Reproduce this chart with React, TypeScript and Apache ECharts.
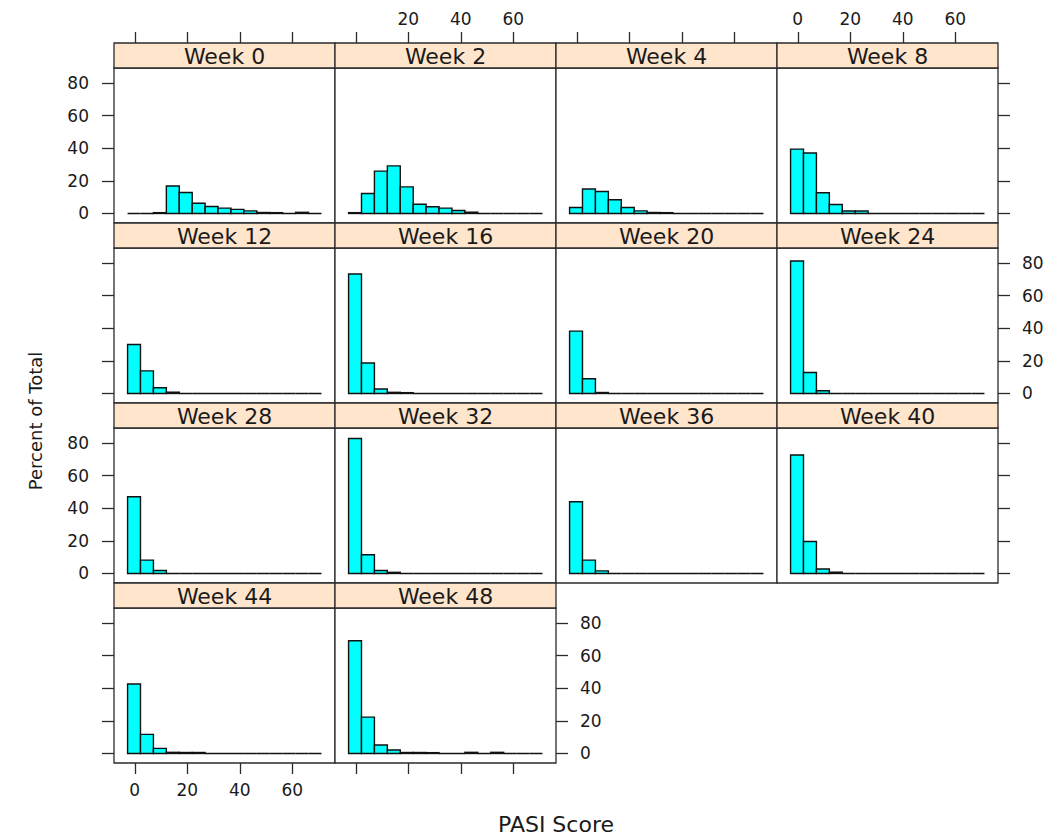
import React, { useEffect, useRef } from "react";
import * as echarts from "echarts";

// Panel labels, in reading order (as.table layout, 4 columns)
const weeks = [
  "Week 0", "Week 2", "Week 4", "Week 8",
  "Week 12", "Week 16", "Week 20", "Week 24",
  "Week 28", "Week 32", "Week 36", "Week 40",
  "Week 44", "Week 48",
];

// Common histogram break points (PASI score)
const breaks = [
  -2.74, 2.18, 7.11, 12.03, 16.95, 21.88, 26.8, 31.72,
  36.64, 41.57, 46.49, 51.41, 56.34, 61.26, 66.18, 71.11,
];

// Percent of total in each bin, one list per week
const week0 = [0, 0, 0.5, 16.9, 12.9, 6.3, 4.3, 3.3, 2.5, 1.6, 0.6, 0.5, 0, 0.7, 0];
const week2 = [0.5, 12.3, 26.0, 29.2, 16.3, 5.7, 4.1, 3.3, 1.8, 0.8, 0, 0, 0, 0, 0];
const week4 = [3.7, 15.0, 13.5, 8.4, 3.7, 1.6, 0.6, 0.5, 0, 0, 0, 0, 0, 0, 0];
const week8 = [39.5, 37.1, 12.7, 5.5, 1.5, 1.5, 0, 0, 0, 0, 0, 0, 0, 0, 0];
const week12 = [30.1, 13.9, 3.5, 0.8, 0, 0, 0, 0, 0, 0, 0, 0, 0, 0, 0];
const week16 = [73.3, 18.7, 2.7, 0.7, 0.5, 0, 0, 0, 0, 0, 0, 0, 0, 0, 0];
const week20 = [38.3, 9.0, 0.6, 0, 0, 0, 0, 0, 0, 0, 0, 0, 0, 0, 0];
const week24 = [81.3, 12.9, 1.7, 0, 0, 0, 0, 0, 0, 0, 0, 0, 0, 0, 0];
const week28 = [47.1, 8.2, 1.8, 0, 0, 0, 0, 0, 0, 0, 0, 0, 0, 0, 0];
const week32 = [82.9, 11.5, 1.8, 0.7, 0, 0, 0, 0, 0, 0, 0, 0, 0, 0, 0];
const week36 = [44.0, 8.2, 1.6, 0, 0, 0, 0, 0, 0, 0, 0, 0, 0, 0, 0];
const week40 = [72.7, 19.6, 2.7, 0.8, 0, 0, 0, 0, 0, 0, 0, 0, 0, 0, 0];
const week44 = [42.6, 11.7, 3.1, 0.7, 0.6, 0.6, 0, 0, 0, 0, 0, 0, 0, 0, 0];
const week48 = [69.2, 22.3, 5.2, 2.1, 0.6, 0.6, 0.5, 0, 0, 0.7, 0, 0.7, 0, 0, 0];

const percents = [
  week0, week2, week4, week8, week12, week16, week20,
  week24, week28, week32, week36, week40, week44, week48,
];

// Tick values
const xTicks = [0, 20, 40, 60];
const yTicks = [0, 20, 40, 60, 80];

// Axis limits (padded around the breaks and the tallest bar)
const X_MIN = -7.91;
const X_MAX = 76.27;
const Y_MIN = -5.85;
const Y_MAX = 89.3;

// Layout
const W = 1047;
const H = 835;
const NCOL = 4;
const LEFT0 = 114;
const TOP0 = 43;
const PANEL_W = 221;
const ROW_H = 180;
const STRIP_H = 25;
const PLOT_H = ROW_H - STRIP_H;

const FONT = "'DejaVu Sans', 'Liberation Sans', Arial, sans-serif";
const INK = "#1a1a1a";
const FRAME = "#2b2b2b";

export default function App() {
  const ref = useRef<HTMLDivElement>(null);

  useEffect(() => {
    if (!ref.current) return;
    const chart = echarts.init(ref.current, undefined, { renderer: "svg" });

    const nRows = Math.ceil(weeks.length / NCOL);
    const grids: any[] = [];
    const xAxes: any[] = [];
    const yAxes: any[] = [];
    const series: any[] = [];
    const graphics: any[] = [];

    weeks.forEach((name, i) => {
      const r = Math.floor(i / NCOL);
      const c = i % NCOL;
      const left = LEFT0 + c * PANEL_W;
      const stripTop = TOP0 + r * ROW_H;
      const top = stripTop + STRIP_H;
      const lastInRow = Math.min(weeks.length - 1, r * NCOL + NCOL - 1) === i;
      const lastRow = r === nRows - 1;

      grids.push({
        left,
        top,
        width: PANEL_W,
        height: PLOT_H,
        show: true,
        borderColor: FRAME,
        borderWidth: 1.3,
        backgroundColor: "#ffffff",
      });

      // x axis: ticks above the first row (over the strips), below the last row
      const xTop = r === 0;
      const xBottom = lastRow;
      let xLabels: number[] = [];
      if (xTop && c % 2 === 1) xLabels = c === 1 ? [20, 40, 60] : xTicks;
      if (xBottom && !xTop && c % 2 === 0) xLabels = xTicks;
      xAxes.push({
        gridIndex: i,
        type: "value",
        min: X_MIN,
        max: X_MAX,
        position: xTop ? "top" : "bottom",
        // top axis sits on the strip's upper edge
        offset: xTop ? STRIP_H : 0,
        axisLine: { show: false, onZero: false },
        splitLine: { show: false },
        axisTick: {
          show: xTop || xBottom,
          length: 11,
          customValues: xTicks,
          lineStyle: { color: FRAME, width: 1.3 },
        },
        axisLabel: {
          show: xLabels.length > 0,
          customValues: xLabels,
          margin: xTop ? 16 : 18,
          color: INK,
          fontSize: 17,
          fontFamily: FONT,
        },
      });

      // y axis: left side for the first column, right side for the row's last panel
      const yLeft = c === 0;
      const yRight = lastInRow;
      const yLabelled = yLeft ? r % 2 === 0 : r % 2 === 1;
      yAxes.push({
        gridIndex: i,
        type: "value",
        min: Y_MIN,
        max: Y_MAX,
        position: yLeft ? "left" : "right",
        axisLine: { show: false, onZero: false },
        splitLine: { show: false },
        axisTick: {
          show: yLeft || yRight,
          length: 12,
          customValues: yTicks,
          lineStyle: { color: FRAME, width: 1.3 },
        },
        axisLabel: {
          show: (yLeft || yRight) && yLabelled,
          customValues: yTicks,
          margin: yLeft ? 25 : 24,
          color: INK,
          fontSize: 17,
          fontFamily: FONT,
        },
      });

      const data = percents[i].map((v, k) => [breaks[k], breaks[k + 1], v]);
      series.push({
        type: "custom",
        xAxisIndex: i,
        yAxisIndex: i,
        data,
        silent: true,
        renderItem: (_params: any, api: any) => {
          const a = api.coord([api.value(0), 0]);
          const b = api.coord([api.value(1), api.value(2)]);
          return {
            type: "polygon",
            shape: {
              points: [
                [a[0], a[1]],
                [b[0], a[1]],
                [b[0], b[1]],
                [a[0], b[1]],
              ],
            },
            style: { fill: "#00FFFF", stroke: "#111111", lineWidth: 1.4 },
          };
        },
      });

      // strip with the panel's label
      graphics.push({
        type: "rect",
        shape: { x: left, y: stripTop, width: PANEL_W, height: STRIP_H },
        style: { fill: "#FFE5CC", stroke: FRAME, lineWidth: 1.3 },
      });
      graphics.push({
        type: "text",
        x: left + PANEL_W / 2,
        y: stripTop + STRIP_H / 2 + 1,
        style: {
          text: name,
          fill: INK,
          font: `22px ${FONT}`,
          align: "center",
          verticalAlign: "middle",
        },
      });
    });

    // axis titles
    graphics.push({
      type: "text",
      x: 35,
      y: 421,
      rotation: Math.PI / 2,
      style: {
        text: "Percent of Total",
        fill: INK,
        font: `18px ${FONT}`,
        align: "center",
        verticalAlign: "middle",
      },
    });
    graphics.push({
      type: "text",
      x: 556,
      y: 824,
      style: {
        text: "PASI Score",
        fill: INK,
        font: `22px ${FONT}`,
        align: "center",
        verticalAlign: "middle",
      },
    });

    chart.setOption({
      animation: false,
      backgroundColor: "#ffffff",
      grid: grids,
      xAxis: xAxes,
      yAxis: yAxes,
      series,
      graphic: graphics,
    });

    return () => chart.dispose();
  }, []);

  return (
    <div
      ref={ref}
      style={{ position: "absolute", left: 0, top: 0, width: W, height: H }}
    />
  );
}
